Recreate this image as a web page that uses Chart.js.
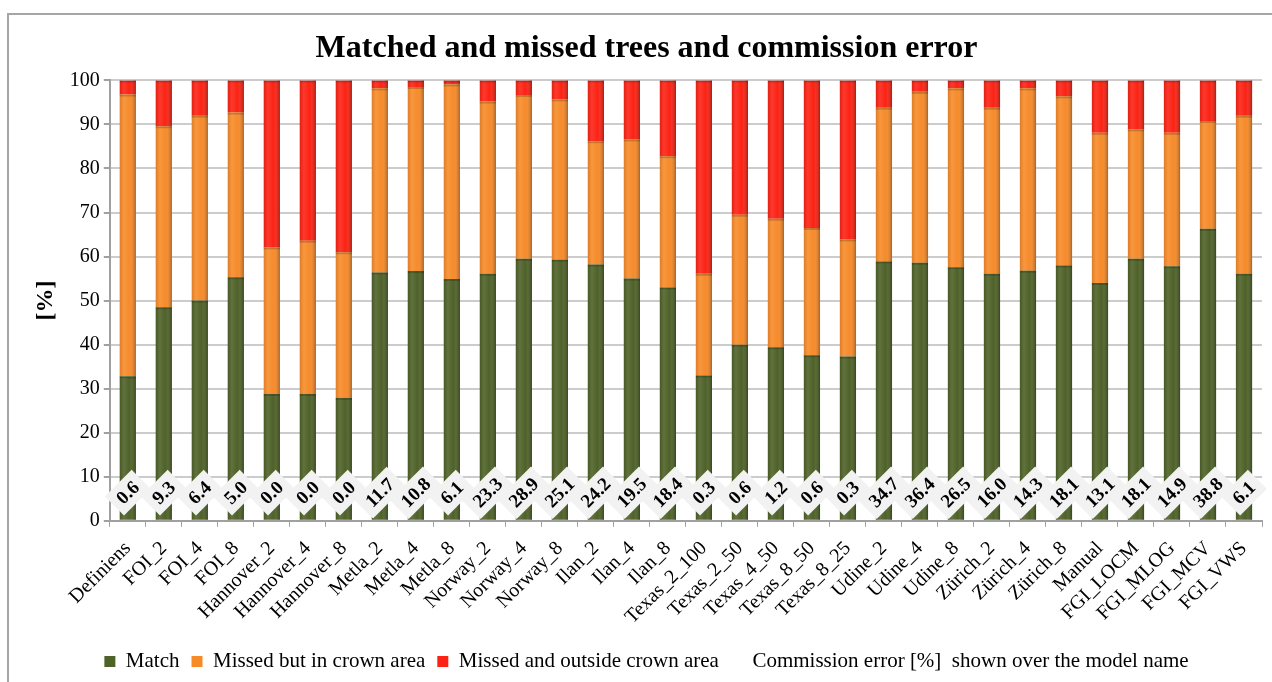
<!DOCTYPE html>
<html>
<head>
<meta charset="utf-8">
<script src="https://cdn.jsdelivr.net/npm/chart.js@4"></script>
<style>
  html, body { margin: 0; padding: 0; background: #fff; }
  #wrap { width: 1272px; height: 682px; }
</style>
</head>
<body>
<div id="wrap"><canvas id="chart"></canvas></div>
<script>
// data
const models = [
    'Definiens', 'FOI_2', 'FOI_4', 'FOI_8', 'Hannover_2', 'Hannover_4', 'Hannover_8',
    'Metla_2', 'Metla_4', 'Metla_8', 'Norway_2', 'Norway_4', 'Norway_8',
    'Ilan_2', 'Ilan_4', 'Ilan_8', 'Texas_2_100', 'Texas_2_50', 'Texas_4_50', 'Texas_8_50', 'Texas_8_25',
    'Udine_2', 'Udine_4', 'Udine_8', 'Zürich_2', 'Zürich_4', 'Zürich_8',
    'Manual', 'FGI_LOCM', 'FGI_MLOG', 'FGI_MCV', 'FGI_VWS',
];

const match = [
    32.8, 48.5, 50.0, 55.3, 28.8, 28.8, 27.9, 56.4, 56.7, 54.9, 56.1, 59.5, 59.3,
    58.2, 55.0, 53.0, 33.0, 40.0, 39.4, 37.6, 37.3, 58.9, 58.6, 57.6, 56.1, 56.8, 58.0,
    54.0, 59.5, 57.8, 66.3, 56.1,
];

const missedInCrown = [
    64.0, 41.1, 42.0, 37.4, 33.3, 34.8, 33.1, 41.8, 41.8, 44.2, 39.1, 37.2, 36.4,
    28.0, 31.6, 29.8, 23.1, 29.5, 29.2, 28.9, 26.6, 34.9, 38.8, 40.6, 37.7, 41.4, 38.4,
    34.1, 29.4, 30.3, 24.5, 35.9,
];

const missedOutside = [
    3.2, 10.4, 8.0, 7.3, 37.9, 36.4, 39.0, 1.8, 1.5, 0.9, 4.8, 3.3, 4.3,
    13.8, 13.4, 17.2, 43.9, 30.5, 31.4, 33.5, 36.1, 6.2, 2.6, 1.8, 6.2, 1.8, 3.6,
    11.9, 11.1, 11.9, 9.2, 8.0,
];

const commissionError = [
    '0.6', '9.3', '6.4', '5.0', '0.0', '0.0', '0.0', '11.7', '10.8', '6.1', '23.3', '28.9', '25.1',
    '24.2', '19.5', '18.4', '0.3', '0.6', '1.2', '0.6', '0.3', '34.7', '36.4', '26.5', '16.0', '14.3', '18.1',
    '13.1', '18.1', '14.9', '38.8', '6.1',
];

const SERIF = "'Liberation Serif', 'Times New Roman', serif";

const colors = {
    match: '#4f6228',
    inCrown: '#f78b2a',
    outside: '#fc2314',
};

// grey frame round the whole chart (only left + top visible in the original)
const framePlugin = {
    id: 'frame',
    beforeDraw(chart) {
        const ctx = chart.ctx;
        ctx.save();
        ctx.fillStyle = '#fff';
        ctx.fillRect(0, 0, chart.width, chart.height);
        ctx.strokeStyle = '#a6a6a6';
        ctx.lineWidth = 2;
        ctx.strokeRect(8, 14, chart.width + 20, chart.height + 20);
        ctx.restore();
    },
};

// a bit of cylinder shading on every bar segment
const shadePlugin = {
    id: 'shade',
    afterDatasetsDraw(chart) {
        const ctx = chart.ctx;
        ctx.save();
        for (let d = 0; d < 3; d++) {
            chart.getDatasetMeta(d).data.forEach((bar) => {
                const left = bar.x - bar.width / 2;
                const top = Math.min(bar.y, bar.base);
                const h = Math.abs(bar.base - bar.y);
                const g = ctx.createLinearGradient(left, 0, left + bar.width, 0);
                g.addColorStop(0, 'rgba(0,0,0,0.10)');
                g.addColorStop(0.25, 'rgba(255,255,255,0.10)');
                g.addColorStop(0.6, 'rgba(255,255,255,0)');
                g.addColorStop(1, 'rgba(0,0,0,0.30)');
                ctx.fillStyle = g;
                ctx.fillRect(left, top, bar.width, h);
                // darker seam at the top of each segment
                ctx.fillStyle = 'rgba(0,0,0,0.18)';
                ctx.fillRect(left, top, bar.width, 2);
            });
        }
        ctx.restore();
    },
};

// commission error shown in tilted boxes over the model name
const commissionPlugin = {
    id: 'commission',
    afterDatasetsDraw(chart) {
        const ctx = chart.ctx;
        const x = chart.scales.x;
        const y = chart.scales.y;
        const cy = y.getPixelForValue(6.4);
        ctx.save();
        ctx.font = `bold 19px ${SERIF}`;
        ctx.textAlign = 'center';
        ctx.textBaseline = 'middle';
        commissionError.forEach((txt, i) => {
            const cx = x.getPixelForValue(i);
            const w = ctx.measureText(txt).width + 14;
            const h = 27;
            ctx.save();
            ctx.translate(cx, cy);
            ctx.rotate(-Math.PI / 4);
            ctx.fillStyle = '#f2f2f2';
            ctx.fillRect(-w / 2, -h / 2, w, h);
            ctx.fillStyle = '#000';
            ctx.fillText(txt, 0, 1);
            ctx.restore();
        });
        ctx.restore();
    },
};

const barDataset = (label, data, color) => ({
    label,
    data,
    backgroundColor: color,
    borderWidth: 0,
    barPercentage: 0.45,
    categoryPercentage: 1.0,
});

new Chart(document.getElementById('chart'), {
    type: 'bar',
    data: {
        labels: models,
        datasets: [
            barDataset('Match', match, colors.match),
            barDataset('Missed but in crown area', missedInCrown, colors.inCrown),
            barDataset('Missed and outside crown area', missedOutside, colors.outside),
            {
                label: 'Commission error [%]  shown over the model name',
                data: [],
                backgroundColor: 'rgba(0,0,0,0)',
                borderColor: 'rgba(0,0,0,0)',
                borderWidth: 0,
            },
        ],
    },
    options: {
        responsive: true,
        maintainAspectRatio: false,
        animation: false,
        layout: {
            padding: { left: 31, right: 10, top: 0, bottom: 0 },
        },
        plugins: {
            title: {
                display: true,
                text: 'Matched and missed trees and commission error',
                color: '#000',
                font: { family: SERIF, size: 32, weight: 'bold' },
                padding: { top: 30, bottom: 12 },
            },
            legend: {
                position: 'bottom',
                labels: {
                    color: '#000',
                    font: { family: SERIF, size: 21 },
                    boxWidth: 11,
                    boxHeight: 11,
                    padding: 12,
                },
            },
            tooltip: { enabled: false },
        },
        scales: {
            x: {
                stacked: true,
                grid: {
                    display: true,
                    offset: true,
                    drawOnChartArea: false,
                    drawTicks: true,
                    tickLength: 6,
                    color: '#a0a0a0',
                },
                border: { color: '#a0a0a0', width: 2 },
                ticks: {
                    color: '#000',
                    font: { family: SERIF, size: 20 },
                    minRotation: 45,
                    maxRotation: 45,
                    autoSkip: false,
                    padding: 10,
                },
            },
            y: {
                stacked: true,
                min: 0,
                max: 100,
                grid: {
                    color: '#cccccc',
                    lineWidth: 2,
                    tickLength: 6,
                    tickColor: '#a0a0a0',
                },
                border: { color: '#a0a0a0', width: 2 },
                ticks: {
                    stepSize: 10,
                    color: '#000',
                    font: { family: SERIF, size: 20 },
                    padding: 4,
                },
                title: {
                    display: true,
                    text: '[%]',
                    color: '#000',
                    font: { family: SERIF, size: 24, weight: 'bold' },
                    padding: { top: 0, bottom: 6 },
                },
            },
        },
    },
    plugins: [framePlugin, shadePlugin, commissionPlugin],
});
</script>
</body>
</html>
